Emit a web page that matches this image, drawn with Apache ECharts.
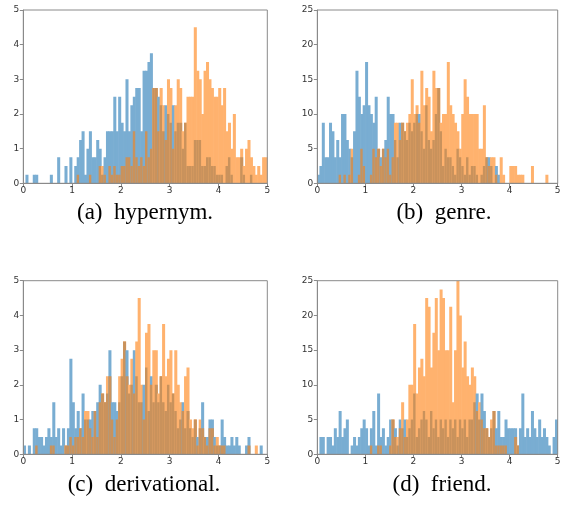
<!DOCTYPE html>
<html><head><meta charset="utf-8">
<script src="https://cdn.jsdelivr.net/npm/echarts@6/dist/echarts.min.js"></script>
<style>html,body{margin:0;padding:0;background:#fff}#c{width:567px;height:517px}</style>
</head><body><div id="c"></div>
<script>
// 100 histogram bins of width 0.05 over [0,5]
const binCount = 100;
const xTicks = [0, 1, 2, 3, 4, 5];
const captions = ["(a)  hypernym.", "(b)  genre.", "(c)  derivational.", "(d)  friend."];

const aBlue = [0,0.25,0,0,0.25,0.25,0,0,0,0, 0,0.25,0,0,0.75,0,0,0.5,0,0.75,
 0,0.5,0.75,1.25,1.5,0.25,1.0,1.5,0.75,0.75, 1.25,1.0,0.25,0.75,1.5,1.5,1.5,2.5,1.5,2.5,
 1.75,1.5,3.0,1.5,2.25,2.5,2.75,2.75,1.5,3.25, 3.25,3.5,3.75,2.75,2.75,2.5,2.25,1.5,2.25,2.0,
 1.75,2.25,1.5,1.75,1.75,1.0,1.75,0.5,0.5,0.5, 1.25,1.25,1.25,0.5,0.5,0.75,0.75,0.5,0.5,0.25,
 0.25,0.25,0,0.5,0.75,0.25,0,0,0,0.75, 0.25,0,0,0.25,0,0,0,0,0,0];
const aOrange = [0,0,0,0,0,0,0,0,0,0, 0,0,0,0,0,0,0,0,0,0,
 0,0,0.25,0,0,0,0,0.25,0,0, 0,0.5,0.5,0.25,0,0.5,0.25,0.5,0.25,0.25,
 0.5,0.5,0.75,0.75,0.5,1.5,0.75,0.5,0.75,0.5, 1.5,0.75,1.0,2.75,2.75,1.5,2.75,2.25,1.25,3.0,
 2.75,1.0,2.25,3.0,2.75,1.5,1.75,2.5,2.5,2.5, 4.5,3.25,3.0,2.0,3.25,3.5,3.0,2.75,2.5,2.5,
 2.75,2.25,2.75,1.5,1.75,1.0,2.0,0.75,0.75,1.0, 0.5,1.0,1.25,0.75,0.5,0.25,0.5,0.25,0.75,0.75];

const bBlue = [1.25,2.5,8.75,3.75,3.75,8.75,7.5,3.75,6.25,3.75, 10,10,6.25,5,3.75,7.5,16.25,12.5,10,11.25,
 17.5,11.25,10,8.75,12.5,5,3.75,5,6.25,12.5, 10,10,6.25,3.75,8.75,8.75,7.5,6.25,8.75,7.5,
 8.75,10,10,7.5,5,11.25,6.25,5,6.25,10, 13.75,7.5,2.5,5,3.75,3.75,2.5,1.25,5,3.75,
 2.5,1.25,3.75,1.25,2.5,2.5,1.25,0,1.25,2.5, 3.75,3.75,2.5,0,2.5,1.25,0,0,0,0,
 0,0,0,0,0,0,0,0,0,0, 0,0,0,0,0,0,0,0,0,0];
const bOrange = [0,0,0,0,0,0,0,0,0,1.25, 0,1.25,0,1.25,5,0,0,1.25,5,2.5,
 0,0,1.25,5,3.75,5,2.5,5,3.75,5, 1.25,3.75,8.75,8.75,6.25,8.75,7.5,8.75,10,15,
 10,11.25,8.75,16.25,11.25,13.75,12.5,7.5,16.25,13.75, 13.75,8.75,10,10,17.5,11.25,10,8.75,7.5,5,
 10,15,12.5,10,10,10,10,5,5,11.25, 3.75,2.5,3.75,3.75,1.25,0,3.75,1.25,0,0,
 2.5,2.5,2.5,1.25,1.25,1.25,0,0,0,2.5, 0,0,0,0,0,1.25,0,0,0,0];

const cBlue = [0.25,0,0.25,0,0.75,0.75,0.5,0.5,0.25,0.5, 0.75,0.5,1.5,0.5,0.75,0.25,0.75,0.25,0.75,2.75,
 1.5,0.75,1.25,0.75,1.75,1.0,1.0,1.0,1.25,1.25, 1.5,2.0,1.75,1.5,1.75,3.0,1.5,1.5,1.25,1.5,
 2.25,3.25,3.0,1.75,2.0,3.0,2.25,1.5,1.5,2.0, 2.5,1.25,2.25,1.5,2.0,1.5,2.25,1.5,1.25,2.0,
 1.5,1.75,1.25,0.75,1.0,1.5,0.75,1.25,0.75,0.5, 1.0,0.5,0.75,1.5,0.5,0.5,1.0,1.0,0.5,0.25,
 0.25,1.0,0.5,0.25,0.25,0.5,0.25,0.5,0.25,0, 0,0.25,0.5,0,0,0,0,0.25,0,0];
const cOrange = [0,0,0,0,0,0.25,0,0,0,0, 0,0.25,0.25,0,0,0,0,0.25,0.25,0.5,
 0.25,0.5,0.5,0.75,0.5,1.25,1.25,0.75,0.5,1.25, 0.5,1.5,1.75,1.5,2.25,2.25,1.0,0.5,1.0,2.25,
 2.75,3.25,2.25,2.0,2.75,1.75,3.25,4.5,2.0,1.0, 3.5,3.75,2.0,3.0,3.0,1.75,2.25,3.75,2.25,2.75,
 3.0,1.75,3.0,2.0,1.5,1.25,2.25,2.5,1.0,0.75, 1.0,0.25,1.0,0.75,0.5,0.25,0.75,0.75,0.25,0.5,
 0.25,0.25,0.25,0,0,0,0,0,0,0, 0,0,0.25,0,0,0.25,0,0,0,0];

const dBlue = [0,2.5,2.5,0,2.5,2.5,1.25,3.75,2.5,6.25, 2.5,3.75,5,0,1.25,2.5,1.25,2.5,3.75,5,
 3.75,1.25,3.75,6.25,1.25,8.75,2.5,3.75,1.25,2.5, 5,5,3.75,1.25,5,3.75,5,2.5,3.75,5,
 8.75,2.5,3.75,5,6.25,5,2.5,6.25,3.75,5, 2.5,5,3.75,5,2.5,5,3.75,5,2.5,5,
 3.75,5,2.5,5,5,7.5,8.75,5,8.75,6.25, 3.75,2.5,3.75,6.25,3.75,6.25,2.5,2.5,5,3.75,
 3.75,3.75,3.75,1.25,3.75,8.75,2.5,3.75,2.5,6.25, 3.75,2.5,5,2.5,3.75,2.5,1.25,0,2.5,5];
const dOrange = [0,0,0,0,0,0,0,0,0,0, 0,0,0,0,0,0,0,0,0,0,
 0,0,1.25,0,0,1.25,1.25,0,0,0, 1.25,5,2.5,2.5,3.75,7.5,2.5,5,10,10,
 18.75,8.75,12.5,13.75,11.25,22.5,21.25,12.5,17.5,22.5, 15,23.75,22.5,15,15,21.25,7.5,15,25,20,
 12.5,16.25,11.25,10,12.5,11.25,6.25,7.5,5,3.75, 3.75,2.5,5,6.25,1.25,1.25,1.25,1.25,1.25,0,
 0,0,2.5,1.25,0,0,0,0,0,0, 0,0,0,0,0,0,0,0,0,0];

const panels = [
  {blue: aBlue, orange: aOrange, yMax: 5, yInt: 1},
  {blue: bBlue, orange: bOrange, yMax: 25, yInt: 5},
  {blue: cBlue, orange: cOrange, yMax: 5, yInt: 1},
  {blue: dBlue, orange: dOrange, yMax: 25, yInt: 5}
];
const rects = [
  {left: 23.3, top: 10, width: 244, height: 173.3},
  {left: 317.3, top: 10, width: 240.4, height: 173.3},
  {left: 23.3, top: 280.7, width: 244, height: 173.6},
  {left: 317.3, top: 280.7, width: 240.4, height: 173.6}
];
const capPos = [[145, 213], [444, 213], [144, 485], [442, 485]];

// '#1f77b4' and '#ff7f0e' at 60% alpha over white, and orange-over-blue overlap
const blueFill = 'rgb(121,173,210)';
const orangeFill = 'rgb(255,178,110)';
const overlapFill = 'rgb(201,146,92)';

const cats = Array.from({length: binCount}, (_, i) => String(i));
const spine = '#8a8a8a';
const labelStyle = {fontFamily: 'DejaVu Sans', fontSize: 9, color: '#333'};

function renderBin(params, api) {
  const i = api.value(0), b = api.value(1), o = api.value(2);
  const hi = Math.max(b, o), lo = Math.min(b, o);
  if (!hi) return null;
  const base = api.coord([i, 0]);
  const w = api.size([1, 0])[0];
  const pad = 0.3;
  const x = base[0] - w / 2 - pad, width = w + 2 * pad;
  const children = [];
  const yHi = api.coord([i, hi])[1];
  children.push({type: 'rect', shape: {x, y: yHi, width, height: base[1] - yHi},
    style: {fill: b > o ? blueFill : orangeFill}});
  if (lo > 0) {
    const yLo = api.coord([i, lo])[1];
    children.push({type: 'rect', shape: {x, y: yLo, width, height: base[1] - yLo}, style: {fill: overlapFill}});
  }
  return {type: 'group', children};
}

const option = {animation: false, grid: [], xAxis: [], yAxis: [], series: [], graphic: []};
panels.forEach((p, g) => {
  option.grid.push(Object.assign({show: true, borderColor: spine, borderWidth: 1, backgroundColor: 'transparent', z: 5}, rects[g]));
  option.xAxis.push({type: 'category', gridIndex: g, data: cats, show: false, position: 'top', boundaryGap: true});
  option.xAxis.push({type: 'value', gridIndex: g, min: 0, max: 5, interval: 1, position: 'bottom', z: 6,
    axisLine: {show: true, lineStyle: {color: spine}}, axisTick: {show: true, inside: false, length: 3.5, lineStyle: {color: spine}},
    splitLine: {show: false}, axisLabel: Object.assign({margin: 3}, labelStyle)});
  option.yAxis.push({type: 'value', gridIndex: g, min: 0, max: p.yMax, interval: p.yInt, z: 6,
    axisLine: {show: true, lineStyle: {color: spine}}, axisTick: {show: true, inside: false, length: 3.5, lineStyle: {color: spine}},
    splitLine: {show: false}, axisLabel: Object.assign({margin: 4}, labelStyle)});
  option.series.push({type: 'custom', xAxisIndex: g * 2, yAxisIndex: g, silent: true, clip: true,
    data: p.blue.map((v, i) => [i, v, p.orange[i]]), encode: {x: 0, y: [1, 2]}, renderItem: renderBin});
  option.graphic.push({type: 'text', x: capPos[g][0], y: capPos[g][1],
    style: {text: captions[g], fontFamily: 'Liberation Serif', fontSize: 23, fill: '#000', align: 'center', verticalAlign: 'middle'}});
});
const chart = echarts.init(document.getElementById('c'), null, {renderer: 'canvas'});
chart.setOption(option);
</script></body></html>
